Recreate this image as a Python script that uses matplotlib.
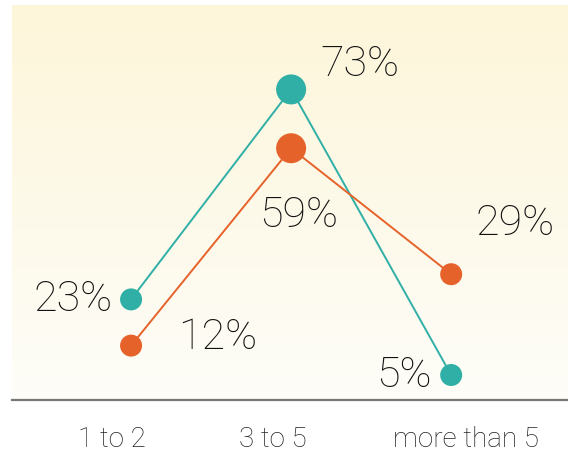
import numpy as np
import matplotlib
matplotlib.use("Agg")
import matplotlib.pyplot as plt
from matplotlib.colors import LinearSegmentedColormap
from matplotlib.transforms import ScaledTranslation

categories = ["1 to 2", "3 to 5", "more than 5"]
series_teal = [23, 73, 5]
series_orange = [12, 59, 29]

TEAL = "#2FAFA6"
ORANGE = "#E5632A"
FONT = ["Roboto", "DejaVu Sans"]

DPI = 100
W, H = 568, 453
fig = plt.figure(figsize=(W / DPI, H / DPI), dpi=DPI)
fig.patch.set_facecolor("white")

ax = fig.add_axes([12 / W, (H - 400) / H, 556 / W, 395 / H])
ax.set_xlim(-0.744, 2.73)
ax.set_ylim(-0.95, 93.1)

# vertical background gradient
grad = np.linspace(0, 1, 256).reshape(-1, 1)
cmap = LinearSegmentedColormap.from_list("bg", ["#FEFDF8", "#FDF6DA"])
ax.imshow(grad, cmap=cmap, aspect="auto", origin="lower",
          extent=[-0.744, 2.73, -0.95, 93.1], zorder=0)

x = np.arange(len(categories))
sizes = [22, 30, 22]  # marker diameters in pixels
s_pts = [(d * 72 / DPI) ** 2 for d in sizes]

for vals, col in [(series_teal, TEAL), (series_orange, ORANGE)]:
    ax.plot(x, vals, color=col, lw=1.4, zorder=2)
    ax.scatter(x, vals, s=s_pts, color=col, zorder=3, linewidths=0)

# value labels: (dx, dy) in pixels, alignment
teal_offsets = [((-18, 0), "right"), ((29, 25), "left"), ((-20, 0), "right")]
orange_offsets = [((47, 8), "left"), ((-32, -67), "left"), ((24, 51), "left")]
for vals, offs in [(series_teal, teal_offsets), (series_orange, orange_offsets)]:
    for xi, v, ((dx, dy), ha) in zip(x, vals, offs):
        ax.annotate(f"{v}%", (xi, v), xytext=(dx, dy), textcoords="offset pixels",
                    ha=ha, va="center", fontsize=31, family=FONT, weight="light",
                    color="#111111", zorder=4)

ax.set_xticks(x)
ax.set_xticklabels(categories, fontsize=20, family=FONT, weight="light", color="#222222")
ax.tick_params(axis="x", length=0, pad=19)
ax.set_yticks([])
label_shift = [-19, -18, 15]
for lbl, dx in zip(ax.get_xticklabels(), label_shift):
    lbl.set_transform(lbl.get_transform() + ScaledTranslation(dx / DPI, 0, fig.dpi_scale_trans))

for side in ["top", "right", "left"]:
    ax.spines[side].set_visible(False)
ax.spines["bottom"].set_color("#777777")
ax.spines["bottom"].set_linewidth(1.6)

fig.savefig("out.png", dpi=DPI)
